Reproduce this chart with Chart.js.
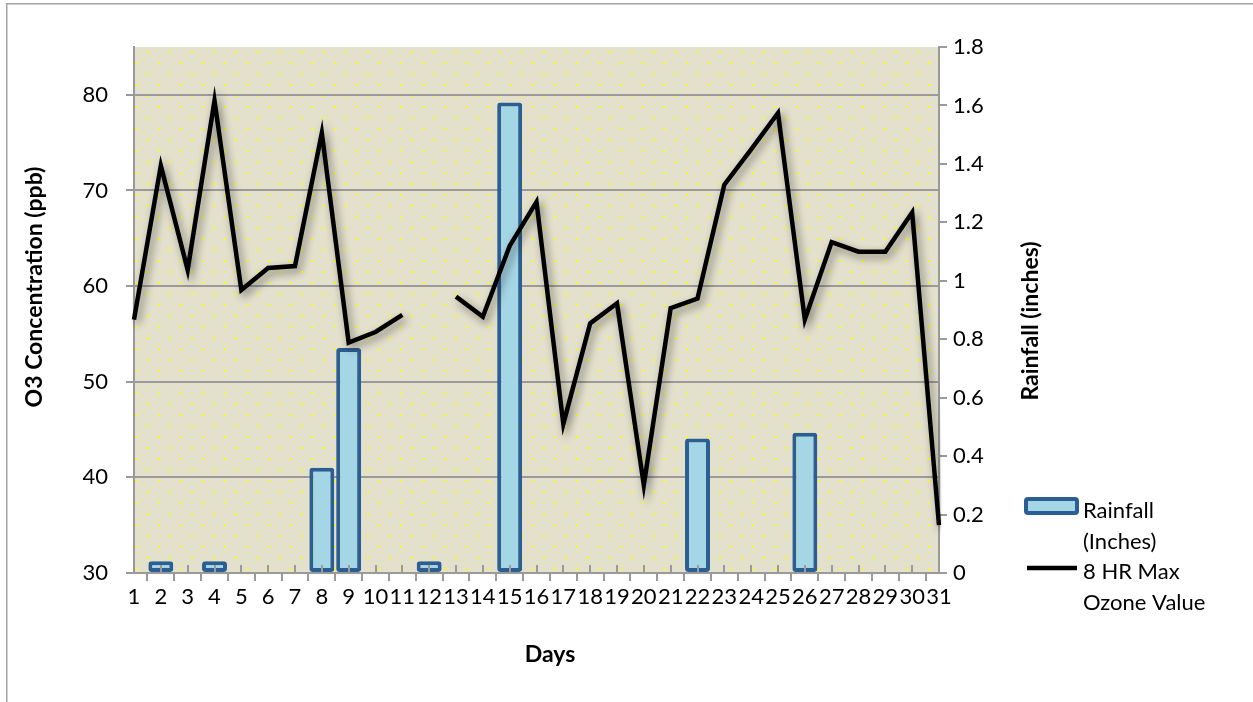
<!DOCTYPE html>
<html>
<head>
<meta charset="utf-8">
<title>O3 Concentration and Rainfall by Day</title>
<script src="https://cdn.jsdelivr.net/npm/chart.js@4.4.1/dist/chart.umd.min.js"></script>
<style>
  html, body { margin: 0; padding: 0; background: #ffffff; overflow: hidden; }
  #wrap { position: relative; width: 1253px; height: 702px; }
</style>
</head>
<body>
<div id="wrap"><canvas id="chart" width="1253" height="702"></canvas></div>
<script>
// Days of the month
const days = ['1','2','3','4','5','6','7','8','9','10','11','12','13','14','15','16',
              '17','18','19','20','21','22','23','24','25','26','27','28','29','30','31'];

// Daily rainfall, inches (right axis)
const rainfall = [0, 0.04, 0, 0.04, 0, 0, 0, 0.36, 0.77, 0, 0, 0.04, 0, 0, 1.61, 0,
                  0, 0, 0, 0, 0, 0.46, 0, 0, 0, 0.48, 0, 0, 0, 0, 0];

// 8-hour maximum ozone, ppb (left axis); day 12 has no reading
const ozone = [56.5, 72.6, 61.7, 79.4, 59.6, 61.9, 62.1, 76.0, 54.1, 55.2, 57.0, null,
               58.9, 56.8, 64.2, 68.8, 45.6, 56.1, 58.2, 39.2, 57.7, 58.7, 70.6, 74.3,
               78.1, 56.5, 64.6, 63.6, 63.6, 67.7, 35.0];

// Axis ticks
const ozoneTicks = [30, 40, 50, 60, 70, 80];
const rainTicks = [0, 0.2, 0.4, 0.6, 0.8, 1.0, 1.2, 1.4, 1.6, 1.8];
const rainTickLabels = ['0', '0.2', '0.4', '0.6', '0.8', '1', '1.2', '1.4', '1.6', '1.8'];

// Titles
const yTitle = 'O3 Concentration (ppb)';
const y1Title = 'Rainfall (inches)';
const xTitle = 'Days';

const FONT = 'Lato';
const AXIS_GREY = '#9a9a9a';
const BAR_FILL = '#a5d6e5';
const BAR_EDGE = '#2b5e92';

// Beige plot area with a staggered yellow dot fill, plus the outer frame
const plotBackground = {
  id: 'plotBackground',
  beforeDraw(chart) {
    const { ctx, chartArea: a } = chart;
    ctx.save();
    ctx.strokeStyle = '#a3a3a3';
    ctx.lineWidth = 1.5;
    ctx.strokeRect(6.75, 3.75, 1400, 900);

    ctx.fillStyle = '#e3e0cc';
    ctx.fillRect(a.left, a.top, a.right - a.left, a.bottom - a.top);
    ctx.beginPath();
    ctx.rect(a.left, a.top, a.right - a.left, a.bottom - a.top);
    ctx.clip();
    ctx.fillStyle = '#ffff00';
    for (let k = 0, y = a.top + 4; y < a.bottom; k++, y += 11) {
      const x0 = a.left + (k % 2 === 0 ? 13 : 2);
      for (let x = x0; x < a.right; x += 22) {
        ctx.fillRect(Math.round(x), Math.round(y), 2, 2);
      }
    }
    ctx.restore();
  }
};

// Soft drop shadow under the ozone line
const lineShadow = {
  id: 'lineShadow',
  beforeDatasetDraw(chart, args) {
    if (chart.data.datasets[args.index].type !== 'line') return;
    const ctx = chart.ctx;
    ctx.save();
    ctx.shadowColor = 'rgba(0,0,0,0.45)';
    ctx.shadowBlur = 8;
    ctx.shadowOffsetX = 3;
    ctx.shadowOffsetY = 4;
  },
  afterDatasetDraw(chart, args) {
    if (chart.data.datasets[args.index].type !== 'line') return;
    chart.ctx.restore();
  }
};

// Category tick marks crossing the horizontal axis, axis titles and the legend
const decorations = {
  id: 'decorations',
  afterDraw(chart) {
    const { ctx, chartArea: a, scales } = chart;
    ctx.save();

    // upper half of the cross tick marks on the day axis
    ctx.strokeStyle = AXIS_GREY;
    ctx.lineWidth = 2;
    scales.x.ticks.forEach((t, i) => {
      const px = Math.round(scales.x.getPixelForTick(i) - 1) + 1;
      ctx.beginPath();
      ctx.moveTo(px, a.bottom - 8);
      ctx.lineTo(px, a.bottom);
      ctx.stroke();
    });

    // axis titles
    ctx.fillStyle = '#000';
    ctx.font = `bold 23px ${FONT}`;
    ctx.textAlign = 'center';
    ctx.textBaseline = 'middle';
    ctx.save();
    ctx.translate(35, 287);
    ctx.rotate(-Math.PI / 2);
    ctx.fillText(yTitle, 0, 0);
    ctx.restore();
    ctx.save();
    ctx.translate(1031, 321);
    ctx.rotate(-Math.PI / 2);
    ctx.fillText(y1Title, 0, 0);
    ctx.restore();
    ctx.fillText(xTitle, 550, 655);

    // legend
    const wrap = (text, maxW) => {
      const words = text.split(' ');
      const lines = [];
      let cur = '';
      words.forEach(w => {
        const test = cur ? cur + ' ' + w : w;
        if (cur && ctx.measureText(test).width > maxW) { lines.push(cur); cur = w; }
        else cur = test;
      });
      if (cur) lines.push(cur);
      return lines;
    };
    ctx.font = `22px ${FONT}`;
    ctx.textAlign = 'left';
    ctx.textBaseline = 'alphabetic';
    const textX = 1083;
    const lineGap = 30.5;
    let baseY = 518;
    chart.data.datasets.forEach(ds => {
      const lines = wrap(ds.label, 135);
      if (ds.type === 'bar') {
        ctx.beginPath();
        ctx.roundRect(1026, 499, 51, 14, 2);
        ctx.fillStyle = BAR_FILL;
        ctx.fill();
        ctx.lineWidth = 4;
        ctx.lineJoin = 'round';
        ctx.strokeStyle = BAR_EDGE;
        ctx.stroke();
      } else {
        ctx.beginPath();
        ctx.moveTo(1027, baseY - 11);
        ctx.lineTo(1077, baseY - 11);
        ctx.lineWidth = 4.5;
        ctx.strokeStyle = '#000';
        ctx.stroke();
      }
      ctx.fillStyle = '#000';
      lines.forEach((ln, i) => ctx.fillText(ln, textX, baseY + i * lineGap));
      baseY += lines.length * lineGap;
    });
    ctx.restore();
  }
};

const tickFont = { family: FONT, size: 22 };

new Chart(document.getElementById('chart'), {
  data: {
    labels: days,
    datasets: [
      {
        type: 'bar',
        label: 'Rainfall (Inches)',
        data: rainfall,
        yAxisID: 'y1',
        backgroundColor: BAR_FILL,
        borderColor: BAR_EDGE,
        borderWidth: 4,
        borderRadius: 3,
        borderSkipped: false,
        categoryPercentage: 1,
        barPercentage: 0.93,
        order: 2
      },
      {
        type: 'line',
        label: '8 HR Max Ozone Value',
        data: ozone,
        yAxisID: 'y',
        borderColor: '#000000',
        borderWidth: 4.5,
        pointRadius: 0,
        tension: 0,
        spanGaps: false,
        order: 1
      }
    ]
  },
  options: {
    responsive: false,
    animation: false,
    events: [],
    layout: { padding: { left: 0, right: 0, top: 47, bottom: 0 } },
    plugins: { legend: { display: false }, tooltip: { enabled: false } },
    scales: {
      x: {
        type: 'category',
        offset: false,
        grid: { drawOnChartArea: false, drawTicks: true, tickLength: 8, color: AXIS_GREY, lineWidth: 2 },
        border: { display: true, color: AXIS_GREY, width: 2 },
        ticks: { autoSkip: false, maxRotation: 0, minRotation: 0, font: tickFont, color: '#000', padding: 3 },
        afterFit(s) { s.height = 702 - 573; }
      },
      y: {
        type: 'linear',
        position: 'left',
        min: 30,
        max: 85,
        afterBuildTicks(s) { s.ticks = ozoneTicks.map(v => ({ value: v })); },
        ticks: { font: tickFont, color: '#000', padding: 18 },
        grid: { color: AXIS_GREY, lineWidth: 2, drawTicks: true, tickLength: 8 },
        border: { display: true, color: AXIS_GREY, width: 2 },
        afterFit(s) { s.width = 134; }
      },
      y1: {
        type: 'linear',
        position: 'right',
        min: 0,
        max: 1.8,
        afterBuildTicks(s) { s.ticks = rainTicks.map(v => ({ value: v })); },
        ticks: {
          font: tickFont,
          color: '#000',
          padding: 6,
          callback: (v, i) => rainTickLabels[i]
        },
        grid: { drawOnChartArea: false, drawTicks: true, tickLength: 8, color: AXIS_GREY, lineWidth: 2 },
        border: { display: true, color: AXIS_GREY, width: 2 },
        afterFit(s) { s.width = 1253 - 939; }
      }
    }
  },
  plugins: [plotBackground, lineShadow, decorations]
});
</script>
</body>
</html>
